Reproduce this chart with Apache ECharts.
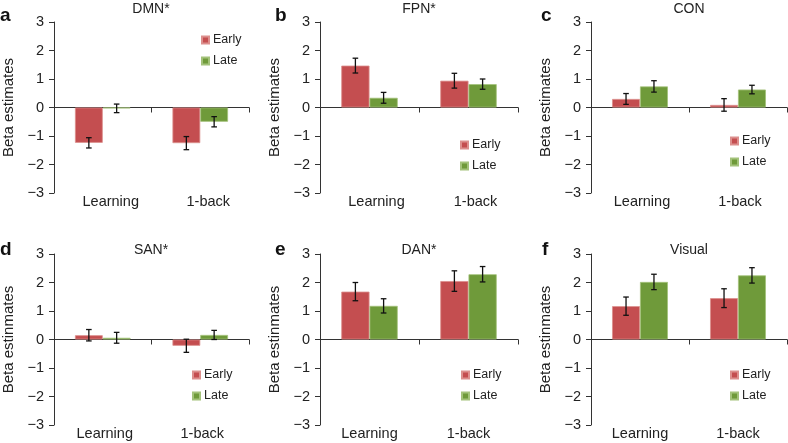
<!DOCTYPE html>
<html><head><meta charset="utf-8">
<script src="https://cdn.jsdelivr.net/npm/echarts@6/dist/echarts.min.js"></script>
<style>html,body{margin:0;padding:0;background:#fff}#c{width:788px;height:443px}</style>
</head><body><div id="c"></div>
<script>
const categories = ['Learning', '1-back'];
const panelLetters = ['a', 'b', 'c', 'd', 'e', 'f'];
const panelTitles = ['DMN*', 'FPN*', 'CON', 'SAN*', 'DAN*', 'Visual'];
const yNames = ['Beta estimates', 'Beta estimates', 'Beta estimates', 'Beta estinmates', 'Beta estinmates', 'Beta estinmates'];
const yTicks = [-3, -2, -1, 0, 1, 2, 3];

const dmnEarly = [-1.24, -1.25], dmnLate = [-0.03, -0.50];
const dmnEarlyErr = [0.18, 0.23], dmnLateErr = [0.15, 0.18];
const fpnEarly = [1.47, 0.94], fpnLate = [0.34, 0.82];
const fpnEarlyErr = [0.26, 0.26], fpnLateErr = [0.19, 0.18];
const conEarly = [0.30, 0.09], conLate = [0.74, 0.63];
const conEarlyErr = [0.19, 0.22], conLateErr = [0.20, 0.15];
const sanEarly = [0.15, -0.22], sanLate = [0.06, 0.16];
const sanEarlyErr = [0.20, 0.23], sanLateErr = [0.19, 0.16];
const danEarly = [1.68, 2.05], danLate = [1.18, 2.29];
const danEarlyErr = [0.32, 0.36], danLateErr = [0.25, 0.27];
const visEarly = [1.17, 1.45], visLate = [2.02, 2.25];
const visEarlyErr = [0.32, 0.33], visLateErr = [0.27, 0.27];

const earlyVals = [dmnEarly, fpnEarly, conEarly, sanEarly, danEarly, visEarly];
const lateVals = [dmnLate, fpnLate, conLate, sanLate, danLate, visLate];
const earlyErrs = [dmnEarlyErr, fpnEarlyErr, conEarlyErr, sanEarlyErr, danEarlyErr, visEarlyErr];
const lateErrs = [dmnLateErr, fpnLateErr, conLateErr, sanLateErr, danLateErr, visLateErr];

// layout
const gridPos = [
  {left: 53, top: 22, width: 196, height: 171},
  {left: 320, top: 22, width: 198, height: 171},
  {left: 591, top: 22, width: 196, height: 171},
  {left: 53, top: 254, width: 196, height: 171},
  {left: 320, top: 254, width: 198, height: 171},
  {left: 591, top: 254, width: 196, height: 171}
];
const titleTop = [2, 2, 2, 243, 243, 243];
const labelShift = [16, 14, 4, 4, 0, 0];
const letterPos = [[0, 6], [275, 6], [541, 6], [0, 240], [275, 240], [542, 240]];
const legendPos = [[201, 33], [460, 138], [730, 134], [192, 368], [461, 368], [730, 368]];
const RED = '#c44e50', GREEN = '#6f9a3a';
const BAR_FR = 0.285;
const FONT = '"Liberation Sans", Arial, Helvetica, sans-serif';

const option = {
  animation: false,
  textStyle: {fontFamily: FONT},
  grid: [], xAxis: [], yAxis: [], series: [], title: [], legend: []
};

function errRender(sign) {
  return function (params, api) {
    const c = api.value(0), lo = api.value(1), hi = api.value(2);
    const band = api.size([1, 0])[0];
    const off = sign * band * BAR_FR / 2;
    const p1 = api.coord([c, lo]), p2 = api.coord([c, hi]);
    const x = p1[0] + off, cap = 2.8;
    const st = {stroke: '#111', lineWidth: 1.3};
    return {type: 'group', children: [
      {type: 'line', shape: {x1: x, y1: p1[1], x2: x, y2: p2[1]}, style: st},
      {type: 'line', shape: {x1: x - cap, y1: p1[1], x2: x + cap, y2: p1[1]}, style: st},
      {type: 'line', shape: {x1: x - cap, y1: p2[1], x2: x + cap, y2: p2[1]}, style: st}
    ]};
  };
}

for (let i = 0; i < 6; i++) {
  const g = gridPos[i];
  option.grid.push({left: g.left, top: g.top, width: g.width, height: g.height, containLabel: false});
  // labeled bottom axis
  option.xAxis.push({
    type: 'category', gridIndex: i, data: categories, position: 'bottom',
    axisLine: {show: false, onZero: false}, axisTick: {show: false},
    axisLabel: {fontSize: 14.5, color: '#222', margin: 1, fontFamily: FONT, padding: [0, 0, 0, labelShift[i]]}
  });
  // zero line axis
  option.xAxis.push({
    type: 'category', gridIndex: i, data: categories, position: 'bottom',
    axisLine: {show: true, onZero: true, onZeroAxisIndex: i, lineStyle: {color: '#333', width: 1}},
    axisTick: {show: true, length: 5, lineStyle: {color: '#333'}},
    axisLabel: {show: false}
  });
  option.yAxis.push({
    type: 'value', gridIndex: i, min: -3, max: 3, interval: 1,
    name: yNames[i], nameLocation: 'middle', nameRotate: 90, nameGap: 38,
    nameTextStyle: {fontSize: 15, color: '#222', fontFamily: FONT},
    axisLine: {show: true, lineStyle: {color: '#333', width: 1}},
    axisTick: {show: true, length: 5, lineStyle: {color: '#333'}},
    splitLine: {show: false},
    axisLabel: {fontSize: 14.5, color: '#222', margin: 10, fontFamily: FONT,
      formatter: v => String(v).replace('-', '\u2212')}
  });
  option.series.push({
    name: 'Early', type: 'bar', xAxisIndex: 2 * i, yAxisIndex: i,
    data: earlyVals[i], barWidth: (BAR_FR * 100) + '%', barGap: '0%',
    itemStyle: {color: RED, borderColor: '#dc8f8d', borderWidth: 0.8}
  });
  option.series.push({
    name: 'Late', type: 'bar', xAxisIndex: 2 * i, yAxisIndex: i,
    data: lateVals[i], barWidth: (BAR_FR * 100) + '%', barGap: '0%',
    itemStyle: {color: GREEN, borderColor: '#a3c27a', borderWidth: 0.8}
  });
  option.series.push({
    name: 'EarlyErr', type: 'custom', xAxisIndex: 2 * i, yAxisIndex: i, z: 5,
    renderItem: errRender(-1),
    data: categories.map((c, k) => [k, earlyVals[i][k] - earlyErrs[i][k], earlyVals[i][k] + earlyErrs[i][k]])
  });
  option.series.push({
    name: 'LateErr', type: 'custom', xAxisIndex: 2 * i, yAxisIndex: i, z: 5,
    renderItem: errRender(1),
    data: categories.map((c, k) => [k, lateVals[i][k] - lateErrs[i][k], lateVals[i][k] + lateErrs[i][k]])
  });
  option.title.push({
    text: panelTitles[i], left: g.left + g.width / 2, top: titleTop[i], textAlign: 'center', padding: 0,
    textStyle: {fontSize: 14, fontWeight: 'normal', color: '#222', fontFamily: FONT}
  });
  option.title.push({
    text: panelLetters[i], left: letterPos[i][0], top: letterPos[i][1], padding: 0,
    textStyle: {fontSize: 19, fontWeight: 'bold', color: '#111', fontFamily: FONT}
  });
  option.legend.push({
    data: ['Early', 'Late'], orient: 'vertical', left: legendPos[i][0], top: legendPos[i][1],
    icon: 'rect', itemWidth: 7, itemHeight: 7, itemGap: 7, selectedMode: false, padding: 0,
    textStyle: {fontSize: 12.5, color: '#222', lineHeight: 14, fontFamily: FONT, padding: [0, 0, 0, -1]}
  });
}

const chart = echarts.init(document.getElementById('c'), null, {renderer: 'canvas'});
chart.setOption(option);
</script>
</body></html>
